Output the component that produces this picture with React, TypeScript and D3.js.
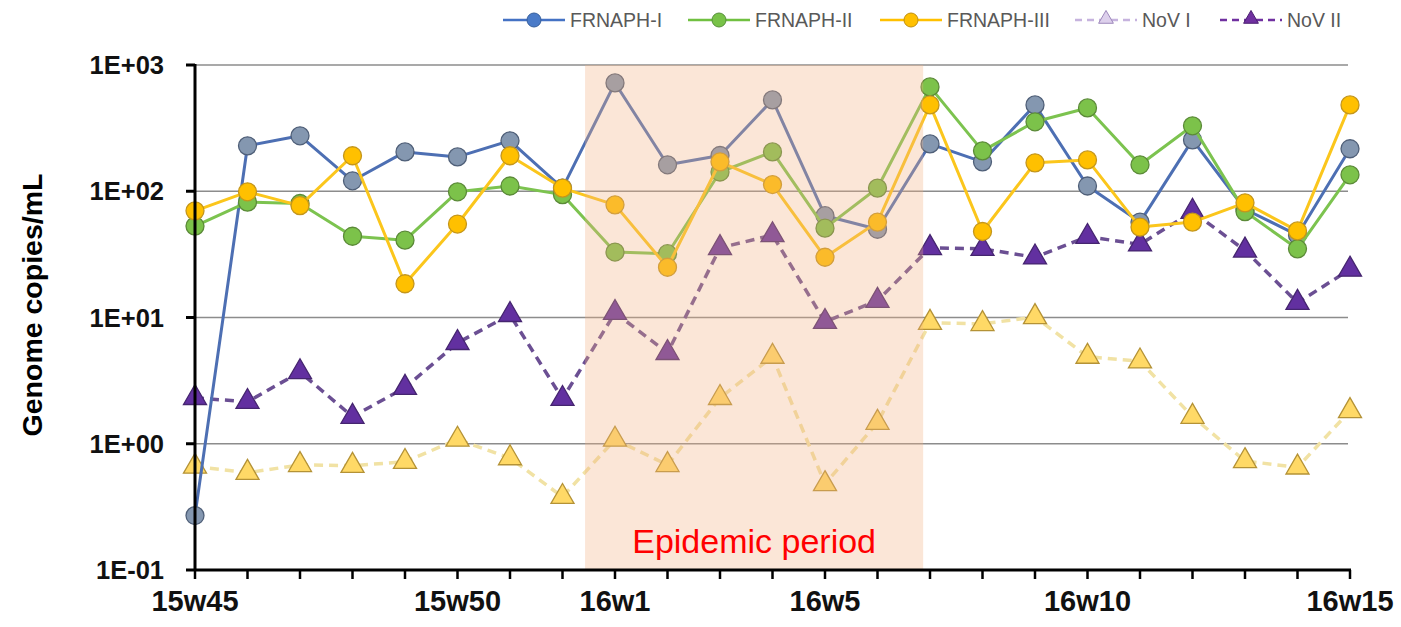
import React from "react";
import * as d3 from "d3";

// weeks on the x axis (2015 w45 -> 2016 w15)
const weeks = [
  "15w45", "15w46", "15w47", "15w48", "15w49", "15w50", "15w51", "15w52",
  "16w1", "16w2", "16w3", "16w4", "16w5", "16w6", "16w7", "16w8", "16w9",
  "16w10", "16w11", "16w12", "16w13", "16w14", "16w15",
];
const shownWeeks = ["15w45", "15w50", "16w1", "16w5", "16w10", "16w15"];

const yTicks = [1000, 100, 10, 1, 0.1];
const yTickLabels = ["1E+03", "1E+02", "1E+01", "1E+00", "1E-01"];

// genome copies/mL
const frnaph1 = [0.27, 229, 275, 121, 205, 187, 251, 106, 721, 162, 192, 529, 64, 50, 237, 171, 483, 110, 57, 255, 72, 45, 217];
const frnaph2 = [53, 82, 80, 44, 41, 99, 110, 94, 33, 32, 142, 205, 51, 106, 671, 209, 355, 457, 162, 330, 69, 35, 135];
const frnaph3 = [70, 99, 77, 191, 18.5, 55, 191, 106, 78, 25, 171, 113, 30, 57, 483, 48, 168, 177, 52, 57, 81, 48.5, 483];
const novI = [0.66, 0.59, 0.68, 0.67, 0.72, 1.08, 0.77, 0.38, 1.08, 0.68, 2.31, 4.9, 0.48, 1.47, 9.1, 8.9, 10.1, 4.9, 4.5, 1.64, 0.73, 0.65, 1.82];
const novII = [2.31, 2.15, 3.7, 1.64, 2.78, 6.3, 10.5, 2.27, 10.9, 5.25, 35.6, 45, 9.25, 13.6, 35.6, 35, 30, 43.6, 38, 69, 34, 13.1, 24];

// epidemic period, in week positions (fractional)
const epidemicSpan = [7.43, 13.87];

const FONT = "'Liberation Sans', Arial, sans-serif";

const W = 1401;
const H = 627;
const left = 195;
const right = 1350;
const top = 65;
const bottom = 570;

type Series = {
  name: string;
  values: number[];
  shape: "circle" | "triangle";
  line: string;
  fill: string;
  stroke: string;
  dash?: string;
  width: number;
  legendLine: string;
  legendFill: string;
  legendStroke: string;
};

const seriesList: Series[] = [
  { name: "NoV I", values: novI, shape: "triangle", line: "#f1e2a4", fill: "#ffd966", stroke: "#b49236", dash: "9,6", width: 3.5, legendLine: "#c6b3de", legendFill: "#ddd0ec", legendStroke: "#9d88bb" },
  { name: "NoV II", values: novII, shape: "triangle", line: "#6b4f93", fill: "#6230a0", stroke: "#45256f", dash: "9,6", width: 3.5, legendLine: "#7030a0", legendFill: "#7030a0", legendStroke: "#4b2070" },
  { name: "FRNAPH-I", values: frnaph1, shape: "circle", line: "#4d6fb3", fill: "#8497b0", stroke: "#4f5f78", width: 3, legendLine: "#4472c4", legendFill: "#4a7bc8", legendStroke: "#365f9c" },
  { name: "FRNAPH-II", values: frnaph2, shape: "circle", line: "#7cc34f", fill: "#7cc24a", stroke: "#5b8a38", width: 3, legendLine: "#70c040", legendFill: "#78c248", legendStroke: "#56903a" },
  { name: "FRNAPH-III", values: frnaph3, shape: "circle", line: "#fbc61c", fill: "#ffc000", stroke: "#c4961c", width: 3, legendLine: "#ffc000", legendFill: "#ffc000", legendStroke: "#c09010" },
];

// legend order as in the picture
const legendOrder = ["FRNAPH-I", "FRNAPH-II", "FRNAPH-III", "NoV I", "NoV II"];
const legendX = [503, 688, 880, 1075, 1220];

export default function App() {
  const x = d3.scalePoint<string>().domain(weeks).range([left, right]);
  const step = x.step();
  const y = d3.scaleLog().domain([0.1, 1000]).range([bottom, top]);

  const line = d3
    .line<number>()
    .x((_, i) => x(weeks[i]) as number)
    .y((d) => y(d));

  const tri = d3.symbol(d3.symbolTriangle, 230)();
  const triSmall = d3.symbol(d3.symbolTriangle, 95)();

  const shadeX0 = left + epidemicSpan[0] * step;
  const shadeX1 = left + epidemicSpan[1] * step;

  return (
    <svg width={W} height={H} style={{ position: "absolute", left: 0, top: 0, background: "#fff" }}>
      {/* gridlines */}
      {yTicks.map((t) => (
        <line key={t} x1={left} x2={1348} y1={y(t)} y2={y(t)} stroke="#8c8c8c" strokeWidth={1.5} />
      ))}

      {/* series */}
      {seriesList.map((s) => (
        <g key={s.name}>
          <path d={line(s.values) ?? ""} fill="none" stroke={s.line} strokeWidth={s.width} strokeDasharray={s.dash} strokeLinejoin="round" />
          {s.values.map((v, i) =>
            s.shape === "circle" ? (
              <circle key={i} cx={x(weeks[i])} cy={y(v)} r={9} fill={s.fill} stroke={s.stroke} strokeWidth={1.3} />
            ) : (
              <path key={i} d={tri ?? ""} transform={`translate(${x(weeks[i])},${y(v)})`} fill={s.fill} stroke={s.stroke} strokeWidth={1.3} />
            )
          )}
        </g>
      ))}

      {/* epidemic shading, semi transparent over the data */}
      <rect x={shadeX0} y={top} width={shadeX1 - shadeX0} height={bottom - top} fill="#f4b183" opacity={0.32} />
      <text x={(shadeX0 + shadeX1) / 2} y={553} textAnchor="middle" fill="#ff0000" fontFamily={FONT} fontSize={34}>
        Epidemic period
      </text>

      {/* axes */}
      <line x1={left} x2={left} y1={top - 1} y2={bottom + 1} stroke="#000" strokeWidth={3} />
      <line x1={left - 1} x2={right + 1} y1={bottom} y2={bottom} stroke="#000" strokeWidth={3} />
      {yTicks.map((t, i) => (
        <g key={t}>
          <line x1={left - 9} x2={left} y1={y(t)} y2={y(t)} stroke="#000" strokeWidth={3} />
          <text x={164} y={y(t) + 9} textAnchor="end" fontFamily={FONT} fontWeight="bold" fontSize={25.5} fill="#111">
            {yTickLabels[i]}
          </text>
        </g>
      ))}
      {weeks.map((w) => (
        <line key={w} x1={x(w)} x2={x(w)} y1={bottom} y2={bottom + 9} stroke="#000" strokeWidth={2.5} />
      ))}
      {shownWeeks.map((w) => (
        <text key={w} x={x(w)} y={611} textAnchor="middle" fontFamily={FONT} fontWeight="bold" fontSize={29} fill="#111">
          {w}
        </text>
      ))}

      <text transform="translate(42,305) rotate(-90)" textAnchor="middle" fontFamily={FONT} fontWeight="bold" fontSize={28.5} fill="#000">
        Genome copies/mL
      </text>

      {/* legend */}
      {legendOrder.map((name, k) => {
        const s = seriesList.find((d) => d.name === name)!;
        const lx = legendX[k];
        return (
          <g key={name} transform={`translate(${lx},20)`}>
            <line x1={0} x2={62} y1={0} y2={0} stroke={s.legendLine} strokeWidth={2.5} strokeDasharray={s.dash ? "7,5" : undefined} />
            {s.shape === "circle" ? (
              <circle cx={31} cy={0} r={7} fill={s.legendFill} stroke={s.legendStroke} strokeWidth={1} />
            ) : (
              <path d={triSmall ?? ""} transform="translate(31,-1)" fill={s.legendFill} stroke={s.legendStroke} strokeWidth={1} />
            )}
            <text x={67} y={7} fontFamily={FONT} fontSize={19.5} fill="#595959">
              {name}
            </text>
          </g>
        );
      })}
    </svg>
  );
}
